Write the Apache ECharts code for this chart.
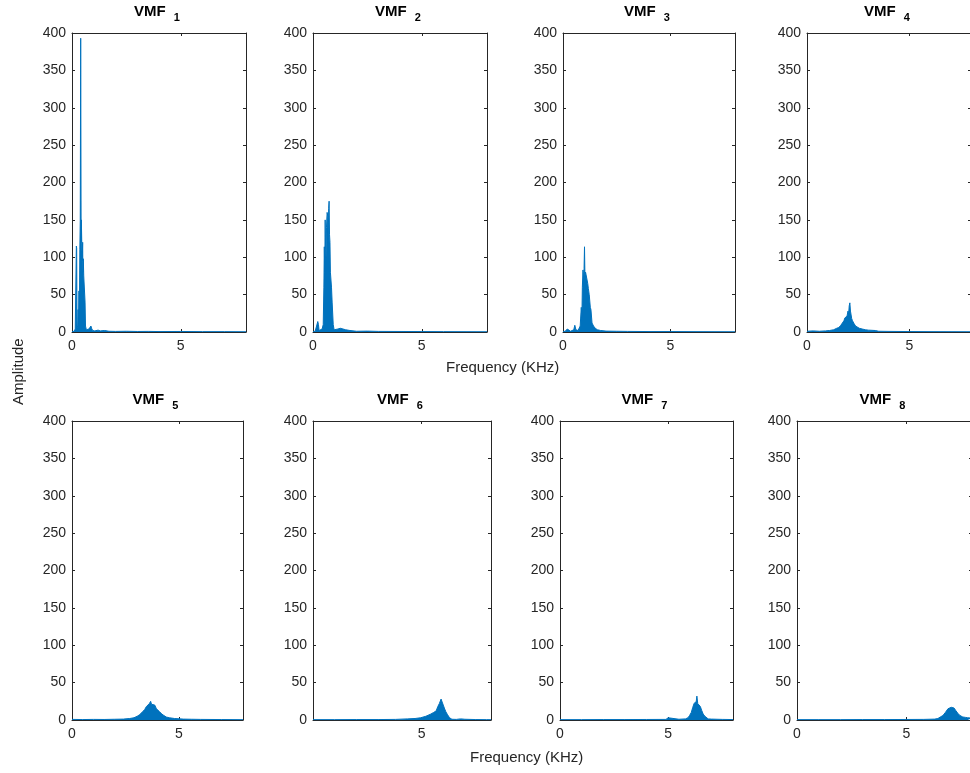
<!DOCTYPE html>
<html>
<head>
<meta charset="utf-8">
<script src="https://cdn.jsdelivr.net/npm/echarts@6/dist/echarts.min.js"></script>
<style>
  html, body { margin: 0; padding: 0; background: #fff; }
  #main { width: 970px; height: 773px; }
</style>
</head>
<body>
<div id="main"></div>
<script>
// mode names (subscripts)
var modeIds = ['1', '2', '3', '4', '5', '6', '7', '8'];
var freqTicks = [0, 5];
var ampMax = 400, ampStep = 50;

// spectra: [frequency kHz, amplitude]
var vmf1 = [[0,0.5],[0.05,2],[0.1,1],[0.15,4],[0.19,3],[0.2,115],[0.215,112],[0.23,5],[0.26,8],[0.28,30],[0.3,12],[0.32,55],[0.34,25],[0.36,110],[0.38,150],[0.4,393],[0.42,120],[0.43,150],[0.45,118],[0.47,95],[0.49,120],[0.5,80],[0.52,98],[0.54,75],[0.56,74],[0.58,73],[0.6,40],[0.62,8],[0.66,3],[0.72,2],[0.78,4],[0.83,6],[0.87,8],[0.9,5],[0.95,2],[1.05,1.5],[1.2,2.5],[1.3,1.5],[1.5,2],[1.7,1],[2,0.8],[2.5,1],[3,0.7],[3.5,0.8],[4,0.6],[5,0.7],[6,0.5],[7,0.5],[8,0.4]];
var vmf2 = [[0,0.5],[0.1,1],[0.18,3],[0.22,14],[0.25,10],[0.28,2],[0.35,3],[0.42,4],[0.47,10],[0.5,60],[0.52,114],[0.54,80],[0.56,150],[0.58,110],[0.6,100],[0.62,140],[0.65,160],[0.68,155],[0.7,120],[0.72,165],[0.74,175],[0.76,130],[0.78,120],[0.8,80],[0.82,78],[0.85,60],[0.88,40],[0.9,38],[0.93,10],[0.97,3],[1.05,2],[1.15,4],[1.25,5],[1.3,6],[1.38,4],[1.5,3],[1.7,2],[2,1],[2.5,1.2],[3,0.8],[4,0.7],[5,0.6],[6,0.5],[8,0.4]];
var vmf3 = [[0,0.5],[0.1,1],[0.2,4],[0.25,2],[0.35,1],[0.5,3],[0.55,9],[0.6,3],[0.7,2],[0.8,8],[0.85,33],[0.88,20],[0.9,60],[0.93,83],[0.96,70],[0.98,85],[1.0,114],[1.02,75],[1.05,80],[1.08,82],[1.12,81],[1.15,65],[1.18,58],[1.22,50],[1.27,33],[1.3,30],[1.35,12],[1.42,8],[1.5,5],[1.6,3],[1.75,2],[2,1.2],[2.5,1],[3,0.8],[4,0.6],[5,0.6],[6,0.5],[8,0.4]];
var vmf4 = [[0,1],[0.3,1.5],[0.6,1],[0.9,1.5],[1.1,2],[1.3,3],[1.45,5],[1.55,6],[1.65,9],[1.72,11],[1.8,15],[1.85,19],[1.88,20],[1.95,21],[2.0,28],[2.03,24],[2.06,35],[2.09,39],[2.12,28],[2.15,30],[2.18,18],[2.22,15],[2.3,11],[2.37,8],[2.45,6],[2.55,5],[2.69,4],[2.85,3],[3.0,2.5],[3.33,2],[3.5,1],[4,0.8],[5,0.6],[6,0.5],[8,0.4]];
var vmf5 = [[0,0.8],[0.5,0.6],[1,0.8],[1.5,0.7],[2,1],[2.4,1.2],[2.7,2],[2.9,3],[3.05,5],[3.16,7],[3.3,11],[3.4,14],[3.48,18],[3.55,20],[3.62,22],[3.68,25],[3.72,21],[3.76,23],[3.8,19],[3.87,20],[3.95,15],[4.02,13],[4.1,11],[4.2,8],[4.3,6],[4.41,4],[4.55,3],[4.8,2],[5.2,1.2],[5.6,1],[6,0.8],[7,0.6],[8,0.5]];
var vmf6 = [[0,0.5],[1,0.5],[2,0.6],[3,0.6],[3.8,0.8],[4.34,1.5],[4.7,2],[4.96,3],[5.2,5],[5.43,8],[5.55,10],[5.67,12],[5.75,18],[5.82,22],[5.86,20],[5.9,28],[5.95,24],[6.0,20],[6.05,16],[6.12,11],[6.2,7],[6.29,3],[6.4,1],[6.6,0.8],[6.8,1.5],[7,1],[7.5,0.6],[8,0.5],[8.2,0.5]];
var vmf7 = [[0,0.5],[1,0.5],[2,0.6],[3,0.6],[4,0.7],[4.9,0.8],[5.0,3],[5.08,0.8],[5.5,1],[5.8,1.5],[5.92,3],[5.99,6],[6.07,10],[6.14,17],[6.2,22],[6.26,20],[6.3,25],[6.33,32],[6.37,22],[6.42,20],[6.49,18],[6.55,13],[6.62,8],[6.7,5],[6.76,3],[6.85,1.5],[7,1.2],[7.5,0.8],[8,0.6]];
var vmf8 = [[0,0.5],[1,0.5],[2,0.5],[3,0.6],[4,0.6],[5,0.7],[5.8,0.8],[6.3,1.2],[6.44,2],[6.55,4],[6.67,6],[6.78,10],[6.9,15],[6.98,16],[7.05,17],[7.12,19],[7.18,16],[7.25,13],[7.35,9],[7.45,6],[7.58,4],[7.7,3.5],[7.8,3],[8,2.5]];
var spectra = [vmf1, vmf2, vmf3, vmf4, vmf5, vmf6, vmf7, vmf8];

// panel placement
var panels = [
  {left: 72,  top: 33,  width: 174, xMax: 8},
  {left: 313, top: 33,  width: 174, xMax: 8},
  {left: 563, top: 33,  width: 172, xMax: 8},
  {left: 807, top: 33,  width: 164, xMax: 8},
  {left: 72,  top: 421, width: 171, xMax: 8},
  {left: 313, top: 421, width: 178, xMax: 8.2, noZero: true},
  {left: 560, top: 421, width: 173, xMax: 8},
  {left: 797, top: 421, width: 175, xMax: 8}
];
var panelH = 299;

var ink = '#262626';
var blue = '#0072BD';
var font = 'Liberation Sans, Arial, sans-serif';

var myChart = echarts.init(document.getElementById('main'));

var grid = [], xAxis = [], yAxis = [], series = [], title = [];

panels.forEach(function (p, i) {
  grid.push({left: p.left, top: p.top, width: p.width, height: panelH, show: false,
             outerBoundsMode: 'none', containLabel: false});
  var line = {show: true, onZero: false, lineStyle: {color: ink, width: 1}};
  var tick = {show: true, inside: true, length: 3, lineStyle: {color: ink, width: 1}};
  xAxis.push({
    type: 'value', gridIndex: i, min: 0, max: p.xMax, interval: 5,
    axisLine: line, axisTick: tick, splitLine: {show: false},
    axisLabel: {
      color: ink, fontSize: 14, fontFamily: font, margin: 7,
      formatter: function (v) {
        if (p.noZero && v === 0) return '';
        return freqTicks.indexOf(v) >= 0 ? String(v) : '';
      }
    }
  });
  xAxis.push({
    type: 'value', gridIndex: i, position: 'top', min: 0, max: p.xMax, interval: 5,
    axisLine: line, axisTick: tick, axisLabel: {show: false}, splitLine: {show: false}
  });
  yAxis.push({
    type: 'value', gridIndex: i, min: 0, max: ampMax, interval: ampStep,
    axisLine: line, axisTick: tick, splitLine: {show: false},
    axisLabel: {color: ink, fontSize: 14, fontFamily: font, margin: 6}
  });
  yAxis.push({
    type: 'value', gridIndex: i, position: 'right', min: 0, max: ampMax, interval: ampStep,
    axisLine: line, axisTick: tick, axisLabel: {show: false}, splitLine: {show: false}
  });
  series.push({
    type: 'line', xAxisIndex: 2 * i, yAxisIndex: 2 * i,
    data: spectra[i], symbol: 'none', silent: true,
    lineStyle: {color: blue, width: 1},
    areaStyle: {color: blue, opacity: 1}
  });
  title.push({
    text: '{a|VMF}{b|' + modeIds[i] + '}',
    left: p.left + p.width / 2 - 2, top: p.top - 33 + (i < 4 ? 0 : 0.5),
    textAlign: 'center', padding: 0,
    textStyle: {
      rich: {
        a: {fontSize: 15, fontWeight: 'bold', color: '#000', fontFamily: font, padding: [0, 8, 0, 0]},
        b: {fontSize: 11, fontWeight: 'bold', color: '#000', fontFamily: font, padding: [12, 0, 0, 0]}
      }
    }
  });
});

option = {
  animation: false,
  title: title,
  grid: grid,
  xAxis: xAxis,
  yAxis: yAxis,
  series: series,
  graphic: [
    {type: 'text', left: 446, top: 360,
     style: {text: 'Frequency (KHz)', fontSize: 15, fontFamily: font, fill: ink}},
    {type: 'text', left: 470, top: 750,
     style: {text: 'Frequency (KHz)', fontSize: 15, fontFamily: font, fill: ink}},
    {type: 'text', x: 11, y: 405, rotation: Math.PI / 2,
     style: {text: 'Amplitude', fontSize: 15, fontFamily: font, fill: ink}}
  ]
};

myChart.setOption(option);
</script>
</body>
</html>
